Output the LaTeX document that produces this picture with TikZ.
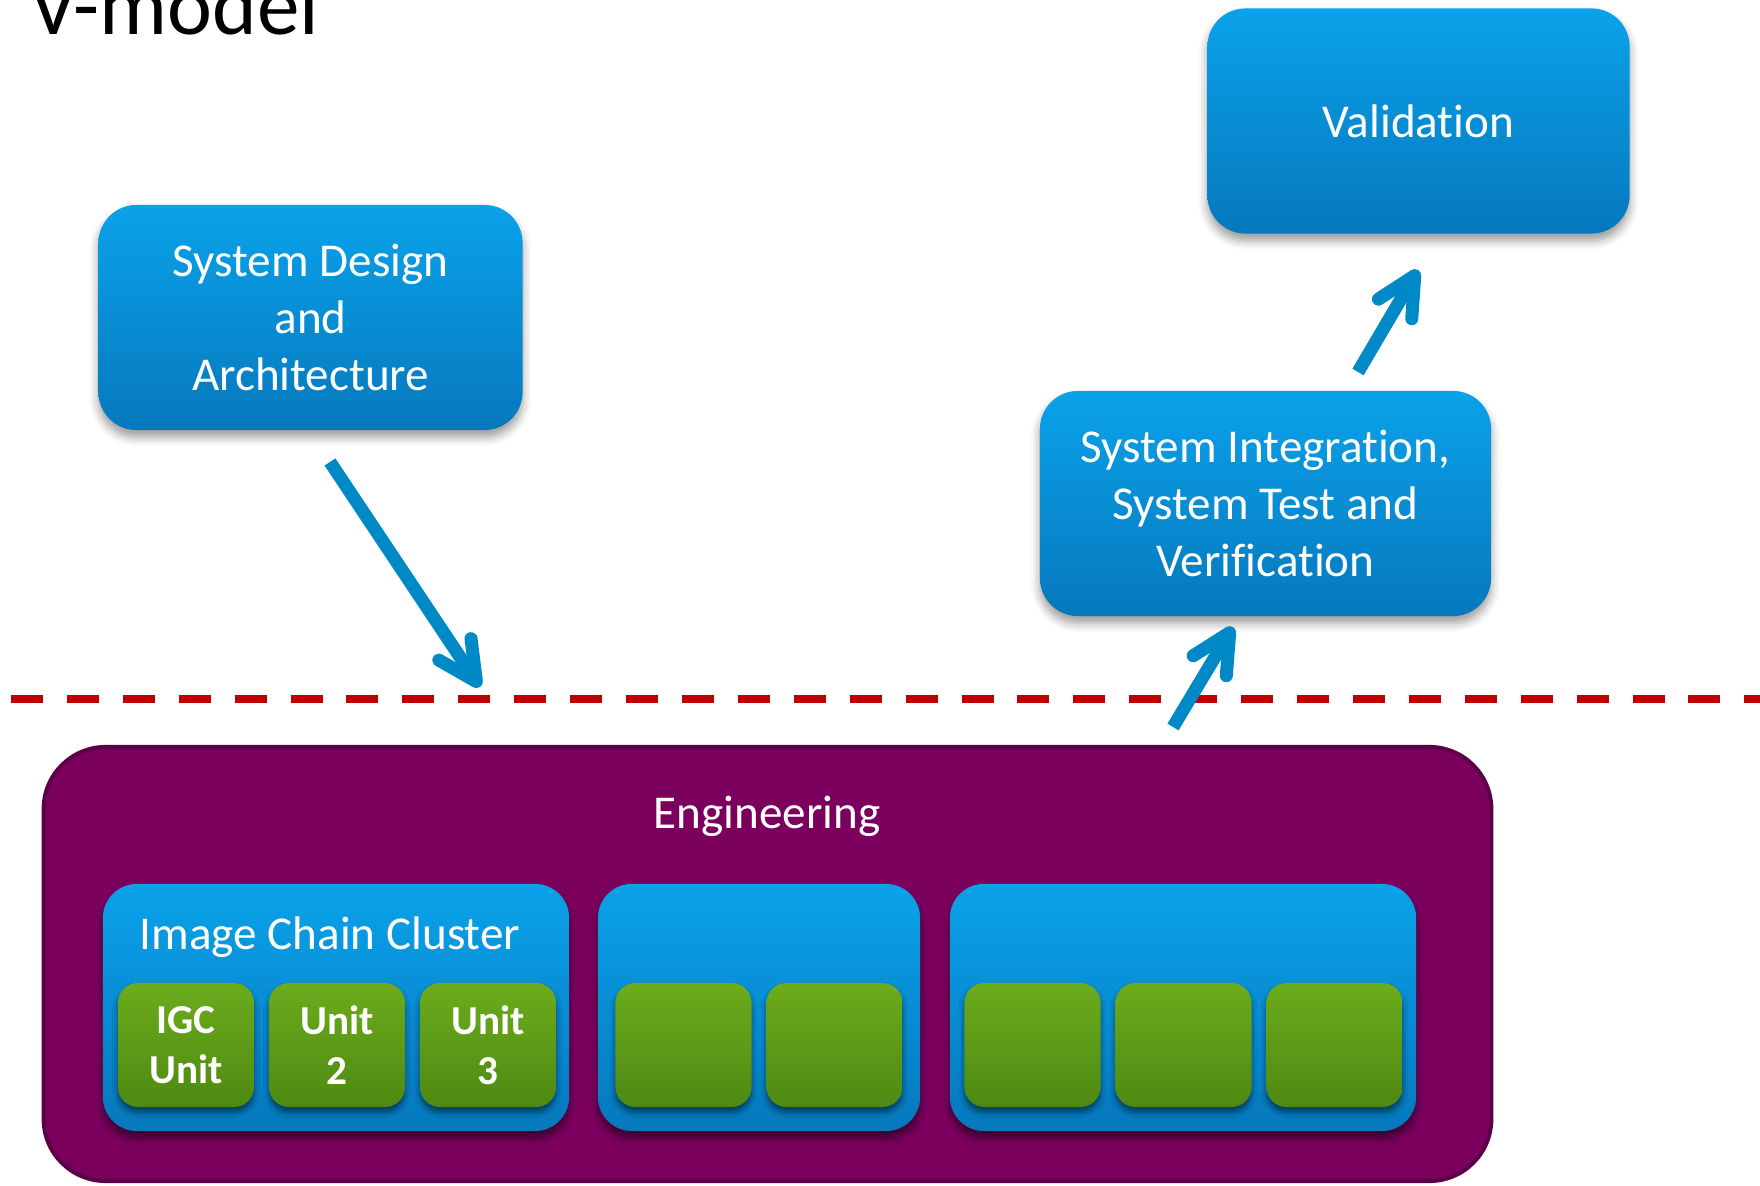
\documentclass[tikz,border=0pt]{standalone}
\usepackage{fontspec}
\setmainfont{Carlito}[Ligatures={NoCommon,NoContextual,NoRare},Contextuals=NoAlternate]
\usetikzlibrary{arrows.meta,shadows.blur}

\definecolor{boxtop}{HTML}{0AA2EA}
\definecolor{boxbot}{HTML}{0678BD}
\definecolor{unittop}{HTML}{6CAC1C}
\definecolor{unitbot}{HTML}{4E8912}
\definecolor{engfill}{HTML}{7B005E}
\definecolor{engedge}{HTML}{5A0046}
\definecolor{flow}{HTML}{0089C7}
\definecolor{boundarycol}{HTML}{C00000}

\begin{document}
\begin{tikzpicture}[x=0.01cm,y=-0.01cm,
  stage/.style={rounded corners=0.38cm, top color=boxtop, bottom color=boxbot,
    text=white, align=center, inner sep=0pt,
    font=\fontsize{13.4}{16.2}\selectfont,
    blur shadow={shadow xshift=0pt, shadow yshift=-2pt, shadow blur radius=2.5pt, shadow opacity=40}},
  cluster/.style={rounded corners=0.34cm, top color=boxtop, bottom color=boxbot,
    inner sep=0pt, minimum height=2.47cm,
    blur shadow={shadow xshift=0pt, shadow yshift=-2pt, shadow blur radius=2pt, shadow opacity=50}},
  unit/.style={rounded corners=0.2cm, top color=unittop, bottom color=unitbot,
    text=white, align=center, inner sep=0pt, minimum width=1.36cm, minimum height=1.24cm,
    font=\bfseries\fontsize{11.7}{14.2}\selectfont,
    blur shadow={shadow xshift=0pt, shadow yshift=-1.5pt, shadow blur radius=1.5pt, shadow opacity=50}},
  engineering/.style={rounded corners=0.62cm, fill=engfill, draw=engedge, line width=1.1pt, inner sep=0pt},
  boxcaption/.style={text=white, inner sep=0pt, anchor=base, font=\fontsize{13.4}{16.2}\selectfont},
  flowarrow/.style={draw=flow, line width=3.7pt, -{Straight Barb[length=11pt,width=11pt,round]}},
  boundary/.style={draw=boundarycol, line width=2.3pt, dash pattern=on 9.1pt off 6.8pt}
]
\useasboundingbox (0,0) rectangle (1760,1186);

% title (its upper part runs off the top of the page)
\node[anchor=base west, inner sep=0pt, font=\fontsize{24.2}{29}\selectfont] (title) at (29,35) {V-model};

% V-model stages
\node[stage, minimum width=4.24cm, minimum height=2.25cm] (design) at (310.5,317.5)
  {System Design\\and\\Architecture};
\node[stage, minimum width=4.51cm, minimum height=2.25cm] (integration) at (1265.5,503.5)
  {System Integration,\\System Test and\\Verification};
\node[stage, minimum width=4.22cm, minimum height=2.25cm] (validation) at (1418.5,121)
  {Validation};

% boundary line
\coordinate (boundL) at (11,699);
\coordinate (boundR) at (1770,699);
\draw[boundary] (boundL) -- (boundR);

% engineering block
\node[engineering, minimum width=14.47cm, minimum height=4.34cm] (eng) at (767.5,964) {};
\node[boxcaption] (englabel) at (767,829) {Engineering};

% clusters
\node[cluster, minimum width=4.66cm] (cluster1) at (336,1007.5) {};
\node[cluster, minimum width=3.22cm] (cluster2) at (759,1007.5) {};
\node[cluster, minimum width=4.66cm] (cluster3) at (1183,1007.5) {};
\node[boxcaption] (clusterlabel) at (330,950) {Image Chain Cluster};

% units
\node[unit] (u11) at (186,1045) {IGC\\Unit};
\node[unit] (u12) at (337,1045) {Unit\\2};
\node[unit] (u13) at (488,1045) {Unit\\3};
\node[unit] (u21) at (683.5,1045) {};
\node[unit] (u22) at (834.5,1045) {};
\node[unit] (u31) at (1032.5,1045) {};
\node[unit] (u32) at (1183.5,1045) {};
\node[unit] (u33) at (1334.5,1045) {};

% flow arrows
\coordinate (a1s) at (330,462);
\coordinate (a1e) at (480,687);
\coordinate (a2s) at (1173,727);
\coordinate (a2e) at (1233,627);
\coordinate (a3s) at (1358,372);
\coordinate (a3e) at (1418,270);
\draw[flowarrow] (a1s) -- (a1e);
\draw[flowarrow] (a2s) -- (a2e);
\draw[flowarrow] (a3s) -- (a3e);
\end{tikzpicture}
\end{document}
